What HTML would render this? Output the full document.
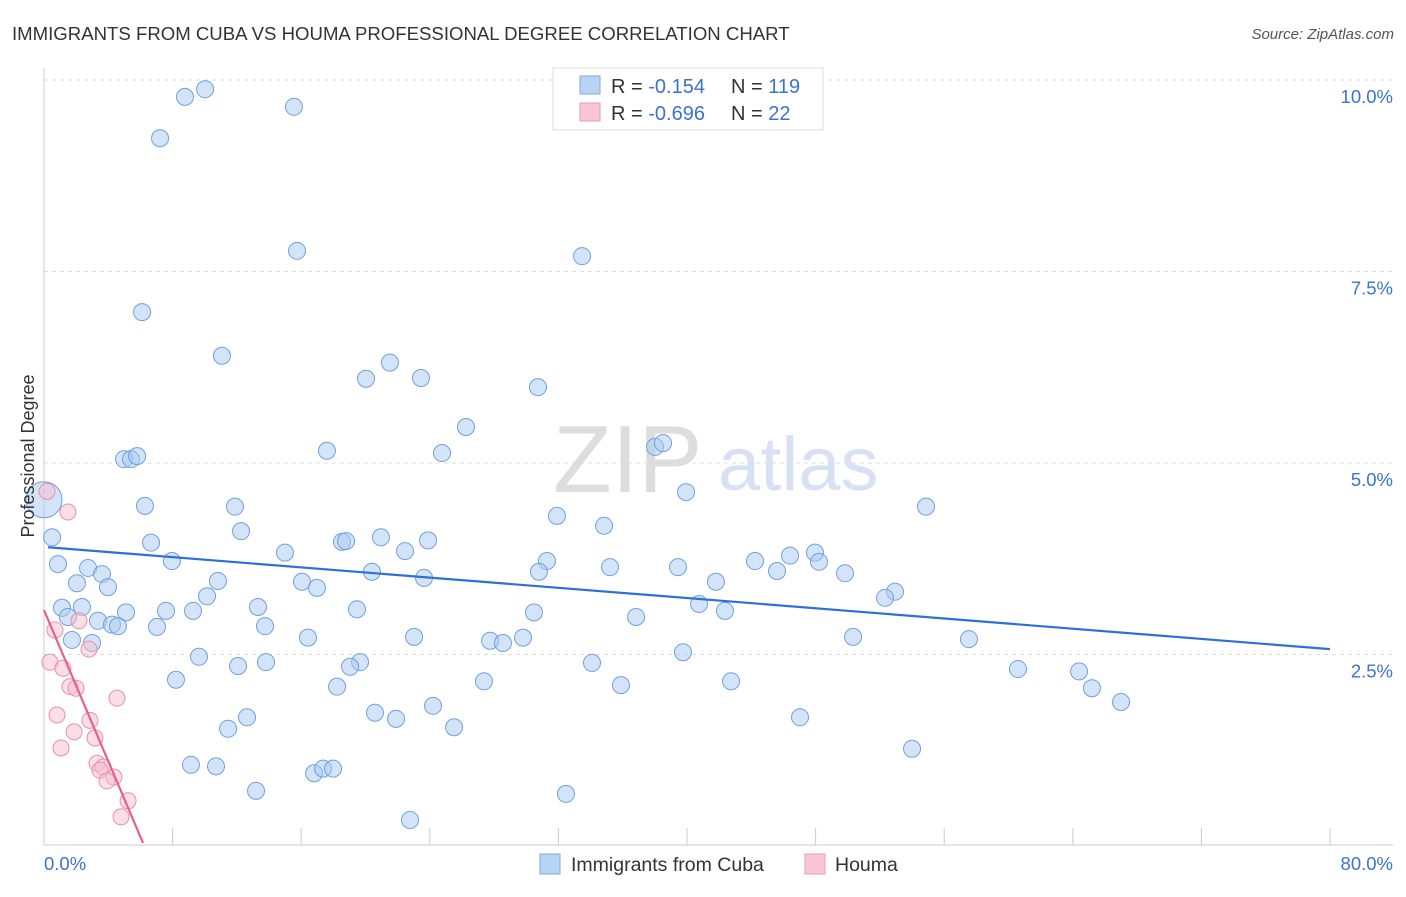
<!DOCTYPE html>
<html><head><meta charset="utf-8">
<style>
body{margin:0;background:#fff;font-family:"Liberation Sans",sans-serif;}
svg text{font-family:"Liberation Sans",sans-serif;}
</style></head>
<body>
<svg id="chart" width="1406" height="892" xmlns="http://www.w3.org/2000/svg">
<text x="12" y="40" font-size="18.6" fill="#333">IMMIGRANTS FROM CUBA VS HOUMA PROFESSIONAL DEGREE CORRELATION CHART</text>
<text x="1394" y="39" font-size="15" fill="#555" text-anchor="end" font-style="italic">Source: ZipAtlas.com</text>
<g>
<text x="553" y="492" font-size="96" fill="#ddd" font-family="Liberation Serif">ZIP</text>
<text x="718" y="490" font-size="76" fill="#d6e2f3">atlas</text>
</g>
<g id="grid"></g>
<g id="axes"></g>
<g id="marks"></g>
<text transform="translate(34,456) rotate(-90)" font-size="18" fill="#333" text-anchor="middle">Professional Degree</text>
<g>
<rect x="553" y="68" width="270" height="62" fill="#fff" stroke="#ddd"/>
<rect x="580" y="76" width="20" height="18" fill="#b8d4f5" stroke="#7aaae6"/>
<rect x="580" y="103" width="20" height="18" fill="#fac6d4" stroke="#eb9ab2"/>
<text x="611" y="93" font-size="20" fill="#333">R = <tspan fill="#3b73d1"> -0.154</tspan><tspan x="731">N = </tspan><tspan fill="#3b73d1">119</tspan></text>
<text x="611" y="120" font-size="20" fill="#333">R = <tspan fill="#3b73d1">-0.696</tspan><tspan x="731">N = </tspan><tspan fill="#3b73d1"> 22</tspan></text>
</g>
<g>
<rect x="540" y="854" width="20" height="20" fill="#b8d4f5" stroke="#7aaae6"/>
<text x="571" y="871" font-size="19.5" fill="#333">Immigrants from Cuba</text>
<rect x="805" y="854" width="20" height="20" fill="#fac6d4" stroke="#eb9ab2"/>
<text x="835" y="871" font-size="19.5" fill="#333">Houma</text>
</g>
</svg>
<script>
const yTicks=[2.5,5,7.5,10];
const yTickLabels=["2.5%","5.0%","7.5%","10.0%"];
const xTicks=[0,8,16,24,32,40,48,56,64,72,80];
const cubaX=[8.77,10.02,15.55,7.22,15.74,33.47,6.10,11.07,21.52,20.03,23.45,30.73,26.25,17.60,24.76,38.01,38.51,4.98,5.41,5.79,39.94,6.28,11.88,54.87,31.91,12.26,34.84,0.50,6.66,20.96,18.54,18.79,23.89,22.46,14.99,0.87,7.96,31.29,44.23,46.41,47.96,48.21,2.74,3.61,20.40,30.79,35.21,39.44,45.60,49.83,2.05,3.98,10.82,16.05,16.98,23.64,41.80,52.94,52.32,10.14,1.12,2.36,5.10,7.59,9.27,13.31,19.47,30.48,40.75,42.36,1.49,3.36,4.23,4.60,7.03,13.75,36.83,16.42,23.02,27.75,28.55,29.80,50.33,57.54,1.74,2.99,9.64,13.81,19.66,39.75,12.07,19.04,34.09,60.59,64.39,8.21,27.37,35.89,42.74,18.23,65.19,67.00,24.20,20.59,21.90,12.63,47.03,11.45,25.51,54.00,9.14,10.70,16.80,17.36,17.98,13.19,32.47,22.77];
const cubaY=[9.78,9.88,9.65,9.24,7.77,7.70,6.97,6.40,6.31,6.10,6.11,5.99,5.47,5.16,5.13,5.21,5.26,5.05,5.05,5.09,4.62,4.44,4.43,4.43,4.31,4.11,4.18,4.03,3.96,4.03,3.97,3.98,3.99,3.85,3.83,3.68,3.72,3.72,3.72,3.79,3.83,3.71,3.63,3.55,3.58,3.58,3.64,3.64,3.59,3.56,3.43,3.38,3.46,3.45,3.37,3.50,3.45,3.32,3.24,3.26,3.11,3.12,3.05,3.07,3.07,3.12,3.09,3.05,3.16,3.07,2.99,2.94,2.89,2.87,2.86,2.87,2.99,2.72,2.73,2.68,2.65,2.72,2.73,2.70,2.69,2.65,2.47,2.40,2.40,2.53,2.35,2.34,2.39,2.31,2.28,2.17,2.15,2.10,2.15,2.08,2.06,1.88,1.83,1.74,1.66,1.68,1.68,1.53,1.55,1.27,1.06,1.04,0.95,1.01,1.01,0.72,0.68,0.34];
const houmaX=[0.19,1.49,0.68,2.18,2.80,0.37,1.18,1.62,1.99,4.54,0.81,2.86,3.17,1.87,1.06,3.30,3.67,3.48,4.35,3.92,5.23,4.79];
const houmaY=[4.63,4.36,2.82,2.94,2.57,2.40,2.32,2.08,2.06,1.93,1.71,1.64,1.41,1.49,1.28,1.08,1.03,0.99,0.90,0.85,0.59,0.38];
const cubaTrendX=[0.25,80];
const cubaTrendY=[3.90,2.57];
const houmaTrendX=[0,6.16];
const houmaTrendY=[3.08,0.04];
const bigCuba=[0,4.52];

const NS="http://www.w3.org/2000/svg";
const sx=v=>44+v*16.075;
const sy=v=>846-v*76.6;
function mk(tag,attrs,parent){const e=document.createElementNS(NS,tag);for(const k in attrs)e.setAttribute(k,attrs[k]);parent.appendChild(e);return e;}
const grid=document.getElementById('grid'),axes=document.getElementById('axes'),marks=document.getElementById('marks');
yTicks.forEach((t,i)=>{
 const l=mk('line',{x1:44,x2:1393,y1:sy(t),y2:sy(t),stroke:'#ddd','stroke-dasharray':'4,4'},grid);
 
 
 const tx=mk('text',{x:1393,y:sy(t)+23,'font-size':18.5,fill:'#3b73d1','text-anchor':'end'},axes);
 tx.textContent=yTickLabels[i];
 
 
});
const la=mk('line',{x1:44,x2:44,y1:68,y2:845,stroke:'#ccc'},axes);


const ba=mk('line',{x1:44,x2:1393,y1:845,y2:845,stroke:'#ccc'},axes);


xTicks.forEach(t=>{
 const l=mk('line',{x1:sx(t),x2:sx(t),y1:828,y2:845,stroke:'#ccc'},axes);
 
 
});
const x0=mk('text',{x:44,y:870,'font-size':18.5,fill:'#3b73d1'},axes);x0.textContent='0.0%';


const x1=mk('text',{x:1393,y:870,'font-size':18.5,fill:'#3b73d1','text-anchor':'end'},axes);x1.textContent='80.0%';



cubaX.forEach((v,i)=>{
 const c=mk('circle',{cx:sx(v),cy:sy(cubaY[i]),r:8.5,fill:'rgba(168,202,242,0.5)',stroke:'#6fa0e0','stroke-width':1},marks);
 
 
});
const bc=mk('circle',{cx:sx(bigCuba[0]),cy:sy(bigCuba[1]),r:18,fill:'rgba(168,202,242,0.5)',stroke:'#6fa0e0'},marks);


houmaX.forEach((v,i)=>{
 const c=mk('circle',{cx:sx(v),cy:sy(houmaY[i]),r:8,fill:'rgba(248,190,208,0.5)',stroke:'#e890ab','stroke-width':1},marks);
 
 
});
const tl=mk('line',{x1:sx(cubaTrendX[0]),y1:sy(cubaTrendY[0]),x2:sx(cubaTrendX[1]),y2:sy(cubaTrendY[1]),stroke:'#2f6fd6','stroke-width':2.2},marks);


const hl=mk('line',{x1:sx(houmaTrendX[0]),y1:sy(houmaTrendY[0]),x2:sx(houmaTrendX[1]),y2:sy(houmaTrendY[1]),stroke:'#e8608a','stroke-width':2.2},marks);


</script>
</body></html>
